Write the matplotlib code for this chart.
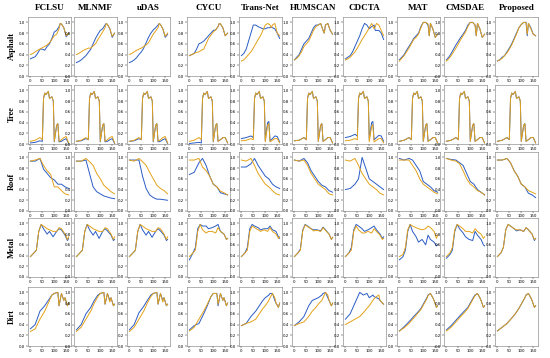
import numpy as np
import matplotlib.pyplot as plt

methods = ['FCLSU', 'MLNMF', 'uDAS', 'CYCU', 'Trans-Net', 'HUMSCAN', 'CDCTA', 'MAT', 'CMSDAE', 'Proposed']
materials = ['Asphalt', 'Tree', 'Roof', 'Metal', 'Dirt']

# Asphalt: band index and reflectance (blue = estimated, orange = reference), one list per method
asphalt_x = [0, 10, 20, 30, 40, 50, 60, 70, 80, 90, 100, 110, 120, 125, 130, 140, 150, 160]
asphalt_blue = [
    [0.32, 0.34, 0.36, 0.42, 0.50, 0.50, 0.48, 0.55, 0.60, 0.70, 0.82, 0.85, 0.92, 0.98, 0.97, 0.90, 0.73, 0.80],
    [0.25, 0.27, 0.30, 0.34, 0.38, 0.44, 0.50, 0.60, 0.70, 0.78, 0.85, 0.88, 0.95, 0.98, 0.96, 0.88, 0.72, 0.80],
    [0.25, 0.27, 0.30, 0.34, 0.40, 0.45, 0.52, 0.62, 0.72, 0.80, 0.86, 0.90, 0.95, 0.98, 0.96, 0.88, 0.72, 0.78],
    [0.38, 0.40, 0.42, 0.50, 0.60, 0.62, 0.65, 0.70, 0.75, 0.80, 0.85, 0.86, 0.92, 0.98, 0.97, 0.90, 0.75, 0.80],
    [0.38, 0.42, 0.50, 0.65, 0.80, 0.95, 0.95, 0.92, 0.90, 0.88, 0.88, 0.90, 0.90, 0.92, 0.90, 0.88, 0.80, 0.70],
    [0.30, 0.35, 0.40, 0.50, 0.60, 0.65, 0.70, 0.80, 0.90, 0.95, 0.95, 0.98, 0.85, 0.80, 0.95, 0.98, 0.85, 0.78],
    [0.32, 0.35, 0.38, 0.45, 0.55, 0.65, 0.75, 0.88, 0.98, 0.95, 0.88, 0.92, 0.95, 0.85, 0.85, 0.85, 0.80, 0.68],
    [0.30, 0.35, 0.40, 0.48, 0.55, 0.62, 0.70, 0.75, 0.80, 0.92, 1.00, 1.00, 0.95, 0.75, 0.98, 0.88, 0.72, 0.78],
    [0.30, 0.35, 0.42, 0.50, 0.58, 0.65, 0.72, 0.78, 0.85, 0.95, 1.00, 1.00, 0.95, 0.75, 0.98, 0.88, 0.72, 0.78],
    [0.28, 0.30, 0.35, 0.38, 0.45, 0.52, 0.60, 0.70, 0.80, 0.90, 0.96, 1.00, 1.00, 0.75, 0.98, 0.90, 0.78, 0.75],
]
asphalt_orange = [
    [0.40, 0.42, 0.45, 0.48, 0.50, 0.53, 0.55, 0.58, 0.62, 0.68, 0.75, 0.78, 0.88, 0.98, 0.97, 0.90, 0.75, 0.80],
    [0.40, 0.42, 0.45, 0.48, 0.50, 0.52, 0.52, 0.56, 0.60, 0.68, 0.75, 0.82, 0.90, 0.98, 0.96, 0.88, 0.74, 0.80],
    [0.40, 0.42, 0.45, 0.48, 0.50, 0.52, 0.55, 0.58, 0.62, 0.70, 0.78, 0.84, 0.90, 0.98, 0.96, 0.88, 0.74, 0.80],
    [0.38, 0.40, 0.42, 0.44, 0.45, 0.48, 0.50, 0.60, 0.70, 0.76, 0.82, 0.86, 0.92, 0.98, 0.97, 0.90, 0.75, 0.80],
    [0.28, 0.30, 0.35, 0.40, 0.45, 0.52, 0.60, 0.68, 0.75, 0.85, 0.95, 0.98, 0.95, 0.90, 0.95, 0.98, 0.80, 0.75],
    [0.30, 0.33, 0.38, 0.45, 0.55, 0.60, 0.65, 0.75, 0.85, 0.92, 0.95, 0.98, 0.85, 0.80, 0.95, 0.98, 0.85, 0.78],
    [0.30, 0.32, 0.35, 0.40, 0.45, 0.52, 0.60, 0.68, 0.75, 0.82, 0.90, 0.98, 0.88, 0.92, 0.98, 0.95, 0.85, 0.75],
    [0.28, 0.33, 0.38, 0.45, 0.52, 0.60, 0.68, 0.72, 0.78, 0.90, 1.00, 1.00, 0.97, 0.75, 0.98, 0.88, 0.72, 0.78],
    [0.28, 0.32, 0.38, 0.45, 0.52, 0.60, 0.68, 0.75, 0.82, 0.92, 1.00, 1.00, 0.95, 0.75, 0.98, 0.88, 0.72, 0.78],
    [0.28, 0.30, 0.33, 0.38, 0.43, 0.50, 0.58, 0.68, 0.78, 0.90, 0.96, 1.00, 1.00, 0.78, 0.98, 0.88, 0.78, 0.75],
]

tree_x = [0, 20, 40, 50, 55, 60, 65, 70, 75, 80, 90, 96, 100, 105, 110, 115, 120, 130, 140, 150, 160]
tree_blue = [
    [0.02, 0.03, 0.06, 0.05, 0.85, 0.95, 0.92, 0.95, 0.98, 0.85, 0.88, 0.80, 0.04, 0.20, 0.35, 0.38, 0.04, 0.05, 0.08, 0.10, 0.01],
    [0.05, 0.06, 0.10, 0.08, 0.85, 0.95, 0.92, 0.95, 0.98, 0.85, 0.88, 0.80, 0.04, 0.20, 0.35, 0.38, 0.04, 0.05, 0.08, 0.10, 0.01],
    [0.05, 0.06, 0.10, 0.08, 0.85, 0.95, 0.92, 0.95, 0.98, 0.85, 0.88, 0.80, 0.04, 0.20, 0.35, 0.38, 0.04, 0.05, 0.08, 0.10, 0.01],
    [0.01, 0.02, 0.03, 0.02, 0.85, 0.95, 0.92, 0.95, 0.98, 0.85, 0.88, 0.80, 0.04, 0.20, 0.35, 0.38, 0.05, 0.08, 0.12, 0.12, 0.02],
    [0.10, 0.12, 0.15, 0.12, 0.85, 0.95, 0.92, 0.95, 0.98, 0.85, 0.88, 0.80, 0.06, 0.25, 0.40, 0.42, 0.06, 0.10, 0.15, 0.14, 0.04],
    [0.06, 0.07, 0.12, 0.08, 0.85, 0.95, 0.92, 0.95, 0.98, 0.85, 0.88, 0.80, 0.05, 0.20, 0.35, 0.38, 0.05, 0.08, 0.12, 0.12, 0.02],
    [0.12, 0.14, 0.18, 0.15, 0.85, 0.95, 0.92, 0.95, 0.98, 0.85, 0.88, 0.80, 0.08, 0.25, 0.40, 0.42, 0.08, 0.12, 0.16, 0.15, 0.05],
    [0.05, 0.07, 0.12, 0.08, 0.85, 0.95, 0.92, 0.95, 0.98, 0.85, 0.88, 0.80, 0.05, 0.20, 0.35, 0.38, 0.05, 0.08, 0.12, 0.12, 0.02],
    [0.05, 0.07, 0.12, 0.08, 0.85, 0.95, 0.92, 0.95, 0.98, 0.85, 0.88, 0.80, 0.05, 0.20, 0.35, 0.38, 0.05, 0.08, 0.12, 0.12, 0.02],
    [0.05, 0.07, 0.12, 0.08, 0.85, 0.95, 0.92, 0.95, 0.98, 0.85, 0.88, 0.80, 0.05, 0.20, 0.35, 0.38, 0.05, 0.08, 0.12, 0.12, 0.02],
]
tree_orange = [
    [0.05, 0.07, 0.12, 0.08, 0.85, 0.95, 0.92, 0.95, 0.98, 0.85, 0.88, 0.80, 0.05, 0.20, 0.35, 0.38, 0.05, 0.08, 0.12, 0.14, 0.02],
    [0.05, 0.07, 0.12, 0.08, 0.85, 0.95, 0.92, 0.95, 0.98, 0.85, 0.88, 0.80, 0.05, 0.20, 0.35, 0.38, 0.05, 0.08, 0.12, 0.14, 0.02],
    [0.05, 0.07, 0.12, 0.08, 0.85, 0.95, 0.92, 0.95, 0.98, 0.85, 0.88, 0.80, 0.05, 0.20, 0.35, 0.38, 0.05, 0.08, 0.12, 0.14, 0.02],
    [0.05, 0.07, 0.12, 0.08, 0.85, 0.95, 0.92, 0.95, 0.98, 0.85, 0.88, 0.80, 0.05, 0.20, 0.35, 0.38, 0.05, 0.08, 0.12, 0.12, 0.02],
    [0.06, 0.07, 0.10, 0.08, 0.85, 0.95, 0.92, 0.95, 0.98, 0.85, 0.88, 0.80, 0.04, 0.20, 0.35, 0.38, 0.04, 0.07, 0.10, 0.10, 0.02],
    [0.06, 0.07, 0.12, 0.08, 0.85, 0.95, 0.92, 0.95, 0.98, 0.85, 0.88, 0.80, 0.05, 0.20, 0.35, 0.38, 0.05, 0.08, 0.12, 0.12, 0.02],
    [0.06, 0.07, 0.10, 0.08, 0.85, 0.95, 0.92, 0.95, 0.98, 0.85, 0.88, 0.80, 0.04, 0.20, 0.33, 0.36, 0.04, 0.07, 0.10, 0.10, 0.02],
    [0.05, 0.07, 0.12, 0.08, 0.85, 0.95, 0.92, 0.95, 0.98, 0.85, 0.88, 0.80, 0.05, 0.20, 0.35, 0.38, 0.05, 0.08, 0.12, 0.12, 0.02],
    [0.05, 0.07, 0.12, 0.08, 0.85, 0.95, 0.92, 0.95, 0.98, 0.85, 0.88, 0.80, 0.05, 0.20, 0.35, 0.38, 0.05, 0.08, 0.12, 0.12, 0.02],
    [0.05, 0.07, 0.12, 0.08, 0.85, 0.95, 0.92, 0.95, 0.98, 0.85, 0.88, 0.80, 0.05, 0.20, 0.35, 0.38, 0.05, 0.08, 0.12, 0.12, 0.02],
]

roof_x = [0, 20, 40, 55, 70, 85, 100, 115, 130, 145, 160]
roof_blue = [
    [0.93, 0.93, 0.98, 0.78, 0.70, 0.62, 0.58, 0.50, 0.50, 0.45, 0.42],
    [0.93, 0.93, 0.95, 0.70, 0.45, 0.36, 0.32, 0.28, 0.26, 0.24, 0.23],
    [0.95, 0.95, 0.95, 0.65, 0.42, 0.30, 0.25, 0.22, 0.22, 0.21, 0.20],
    [0.68, 0.72, 0.90, 0.98, 0.85, 0.65, 0.50, 0.45, 0.34, 0.32, 0.30],
    [0.82, 0.82, 0.88, 0.98, 0.85, 0.75, 0.65, 0.60, 0.50, 0.45, 0.42],
    [0.95, 0.93, 0.98, 0.90, 0.75, 0.65, 0.55, 0.48, 0.45, 0.38, 0.35],
    [0.40, 0.42, 0.50, 0.60, 1.00, 0.80, 0.60, 0.55, 0.50, 0.45, 0.40],
    [0.98, 0.95, 0.98, 0.95, 0.85, 0.75, 0.55, 0.50, 0.45, 0.38, 0.35],
    [0.98, 0.96, 0.95, 0.90, 0.85, 0.70, 0.55, 0.50, 0.40, 0.35, 0.30],
    [0.95, 0.95, 0.98, 0.90, 0.75, 0.65, 0.50, 0.45, 0.33, 0.30, 0.25],
]
roof_orange = [
    [0.93, 0.95, 0.98, 0.85, 0.75, 0.68, 0.45, 0.45, 0.38, 0.32, 0.30],
    [0.93, 0.93, 0.98, 0.92, 0.85, 0.70, 0.60, 0.48, 0.42, 0.36, 0.32],
    [0.95, 0.93, 0.98, 0.92, 0.85, 0.72, 0.60, 0.48, 0.42, 0.38, 0.32],
    [0.95, 0.95, 0.98, 0.82, 0.75, 0.65, 0.50, 0.45, 0.37, 0.34, 0.30],
    [0.95, 0.93, 0.98, 0.85, 0.70, 0.60, 0.50, 0.45, 0.38, 0.32, 0.30],
    [0.95, 0.93, 0.95, 0.85, 0.70, 0.60, 0.50, 0.45, 0.40, 0.32, 0.30],
    [0.95, 0.93, 0.98, 0.85, 0.70, 0.60, 0.50, 0.45, 0.40, 0.33, 0.30],
    [0.95, 0.95, 0.95, 0.85, 0.75, 0.60, 0.50, 0.45, 0.40, 0.35, 0.32],
    [0.98, 0.95, 0.93, 0.88, 0.75, 0.60, 0.50, 0.45, 0.38, 0.35, 0.30],
    [0.95, 0.95, 0.98, 0.90, 0.75, 0.65, 0.50, 0.45, 0.38, 0.35, 0.32],
]

metal_x = [0, 15, 25, 35, 45, 55, 70, 80, 95, 110, 120, 130, 145, 155, 160]
metal_blue = [
    [0.38, 0.45, 0.50, 0.85, 0.98, 0.90, 0.80, 0.85, 0.75, 0.85, 0.90, 0.88, 0.78, 0.68, 0.72],
    [0.38, 0.45, 0.50, 0.85, 0.98, 0.88, 0.78, 0.85, 0.72, 0.85, 0.90, 0.86, 0.78, 0.68, 0.70],
    [0.38, 0.45, 0.50, 0.85, 0.98, 0.88, 0.78, 0.85, 0.74, 0.85, 0.90, 0.86, 0.78, 0.68, 0.70],
    [0.32, 0.45, 0.55, 0.90, 0.98, 0.95, 0.95, 0.90, 0.92, 0.95, 0.98, 0.85, 0.80, 0.70, 0.72],
    [0.38, 0.45, 0.55, 0.90, 0.98, 0.95, 0.92, 0.88, 0.90, 0.90, 0.95, 0.88, 0.85, 0.75, 0.72],
    [0.38, 0.45, 0.52, 0.88, 0.98, 0.95, 0.90, 0.88, 0.88, 0.86, 0.93, 0.88, 0.80, 0.70, 0.74],
    [0.38, 0.45, 0.55, 0.88, 0.98, 0.95, 0.90, 0.85, 0.88, 0.92, 0.95, 0.88, 0.80, 0.72, 0.75],
    [0.32, 0.38, 0.50, 0.85, 0.98, 0.85, 0.75, 0.65, 0.70, 0.60, 0.78, 0.70, 0.65, 0.58, 0.60],
    [0.35, 0.42, 0.50, 0.85, 0.98, 0.90, 0.82, 0.75, 0.70, 0.68, 0.85, 0.78, 0.70, 0.60, 0.58],
    [0.38, 0.45, 0.55, 0.88, 0.98, 0.95, 0.90, 0.86, 0.88, 0.85, 0.92, 0.88, 0.80, 0.68, 0.72],
]
metal_orange = [
    [0.38, 0.45, 0.50, 0.85, 0.98, 0.95, 0.90, 0.88, 0.85, 0.85, 0.92, 0.90, 0.80, 0.70, 0.75],
    [0.38, 0.45, 0.50, 0.85, 0.98, 0.95, 0.90, 0.88, 0.85, 0.85, 0.92, 0.90, 0.80, 0.70, 0.75],
    [0.38, 0.45, 0.50, 0.85, 0.98, 0.95, 0.90, 0.88, 0.85, 0.85, 0.92, 0.90, 0.80, 0.70, 0.75],
    [0.38, 0.45, 0.50, 0.85, 0.98, 0.88, 0.82, 0.85, 0.85, 0.82, 0.92, 0.85, 0.80, 0.70, 0.72],
    [0.38, 0.45, 0.50, 0.85, 0.95, 0.92, 0.88, 0.85, 0.88, 0.85, 0.92, 0.85, 0.80, 0.72, 0.75],
    [0.38, 0.45, 0.50, 0.86, 0.97, 0.94, 0.90, 0.86, 0.87, 0.85, 0.92, 0.87, 0.80, 0.70, 0.74],
    [0.38, 0.45, 0.50, 0.85, 0.95, 0.88, 0.82, 0.82, 0.85, 0.82, 0.90, 0.85, 0.78, 0.70, 0.72],
    [0.38, 0.42, 0.55, 0.88, 0.98, 0.95, 0.92, 0.90, 0.88, 0.90, 0.95, 0.92, 0.85, 0.72, 0.78],
    [0.38, 0.45, 0.55, 0.88, 0.98, 0.95, 0.90, 0.85, 0.85, 0.82, 0.90, 0.85, 0.80, 0.72, 0.75],
    [0.38, 0.45, 0.55, 0.88, 0.98, 0.95, 0.90, 0.88, 0.88, 0.85, 0.92, 0.88, 0.80, 0.70, 0.72],
]

dirt_x = [0, 20, 40, 60, 75, 90, 100, 115, 120, 130, 140, 145, 155, 160]
dirt_blue = [
    [0.32, 0.40, 0.65, 0.75, 0.85, 0.95, 0.98, 1.00, 0.75, 0.98, 0.85, 0.90, 0.75, 0.80],
    [0.30, 0.40, 0.60, 0.72, 0.85, 0.95, 0.98, 1.00, 0.78, 0.98, 0.85, 0.90, 0.75, 0.78],
    [0.30, 0.40, 0.62, 0.74, 0.85, 0.95, 0.98, 1.00, 0.78, 0.98, 0.85, 0.90, 0.75, 0.78],
    [0.30, 0.38, 0.42, 0.60, 0.75, 0.92, 0.98, 0.98, 0.75, 0.98, 0.85, 0.90, 0.75, 0.80],
    [0.38, 0.42, 0.55, 0.65, 0.75, 0.85, 0.90, 0.95, 0.98, 0.98, 0.85, 0.80, 0.72, 0.80],
    [0.38, 0.45, 0.55, 0.75, 0.85, 0.88, 0.90, 0.95, 0.98, 1.00, 0.90, 0.85, 0.75, 0.80],
    [0.50, 0.60, 0.80, 1.00, 0.95, 0.98, 0.90, 0.95, 0.92, 0.90, 0.88, 0.85, 0.80, 0.78],
    [0.28, 0.36, 0.45, 0.55, 0.62, 0.70, 0.78, 0.90, 0.95, 0.98, 0.90, 0.85, 0.72, 0.75],
    [0.30, 0.38, 0.48, 0.58, 0.65, 0.72, 0.80, 0.92, 0.95, 0.98, 0.90, 0.85, 0.72, 0.75],
    [0.28, 0.35, 0.42, 0.52, 0.60, 0.70, 0.78, 0.90, 0.95, 0.98, 0.90, 0.85, 0.72, 0.75],
]
dirt_orange = [
    [0.27, 0.32, 0.50, 0.65, 0.80, 0.95, 0.98, 1.00, 0.75, 0.98, 0.85, 0.90, 0.75, 0.80],
    [0.27, 0.35, 0.50, 0.65, 0.80, 0.92, 0.98, 1.00, 0.78, 0.98, 0.82, 0.90, 0.75, 0.78],
    [0.27, 0.35, 0.50, 0.65, 0.80, 0.92, 0.98, 1.00, 0.78, 0.98, 0.82, 0.90, 0.75, 0.78],
    [0.28, 0.35, 0.50, 0.65, 0.78, 0.92, 0.98, 0.98, 0.78, 0.98, 0.85, 0.90, 0.75, 0.80],
    [0.38, 0.42, 0.45, 0.50, 0.60, 0.70, 0.75, 0.85, 0.90, 0.98, 0.90, 0.80, 0.72, 0.80],
    [0.38, 0.42, 0.45, 0.55, 0.65, 0.72, 0.78, 0.85, 0.90, 1.00, 0.95, 0.85, 0.75, 0.80],
    [0.40, 0.45, 0.50, 0.55, 0.62, 0.70, 0.75, 0.85, 0.88, 0.92, 0.95, 0.85, 0.80, 0.78],
    [0.28, 0.34, 0.42, 0.52, 0.60, 0.68, 0.76, 0.88, 0.94, 0.98, 0.90, 0.85, 0.72, 0.75],
    [0.28, 0.35, 0.45, 0.55, 0.62, 0.70, 0.78, 0.90, 0.94, 0.98, 0.90, 0.85, 0.72, 0.75],
    [0.28, 0.35, 0.42, 0.52, 0.60, 0.70, 0.78, 0.90, 0.95, 0.98, 0.90, 0.85, 0.72, 0.75],
]

rows = [
    (asphalt_x, asphalt_blue, asphalt_orange),
    (tree_x, tree_blue, tree_orange),
    (roof_x, roof_blue, roof_orange),
    (metal_x, metal_blue, metal_orange),
    (dirt_x, dirt_blue, dirt_orange),
]

W, H = 550, 358
col_left = [28, 74, 127, 187, 239, 292, 343, 397, 444, 495]
row_top = [17, 85, 152, 218, 287]
pw, ph = 43, 59

fig = plt.figure(figsize=(W / 100, H / 100), dpi=100)
serif = ['Liberation Serif', 'DejaVu Serif']

for r, (xs, blues, oranges) in enumerate(rows):
    for c in range(len(methods)):
        ax = fig.add_axes([col_left[c] / W, 1 - (row_top[r] + ph) / H, pw / W, ph / H])
        ax.plot(xs, blues[c], color='#2a5cc4', lw=0.7)
        ax.plot(xs, oranges[c], color='#e3a21a', lw=0.7)
        ax.set_ylim(0, 1.1)
        ax.set_xlim(-10, 170)
        ax.set_xticks([0, 50, 100, 150])
        ax.set_yticks(np.arange(0, 1.01, 0.2))
        ax.set_yticklabels(['%.1f' % v for v in np.arange(0, 1.01, 0.2)])
        ax.tick_params(labelsize=2.8, length=1.2, width=0.3, pad=0.8)
        for s in ax.spines.values():
            s.set_linewidth(0.4)
            s.set_color('#777777')
        if r == 0:
            fig.text((col_left[c] + pw / 2) / W, 1 - 8 / H, methods[c], ha='center', va='center',
                     fontsize=6.5, fontweight='bold', family=serif)
    fig.text(12 / W, 1 - (row_top[r] + ph / 2) / H, materials[r], ha='center', va='center',
             rotation=90, fontsize=6, fontweight='bold', family=serif)

fig.savefig('out.png', dpi=100)
